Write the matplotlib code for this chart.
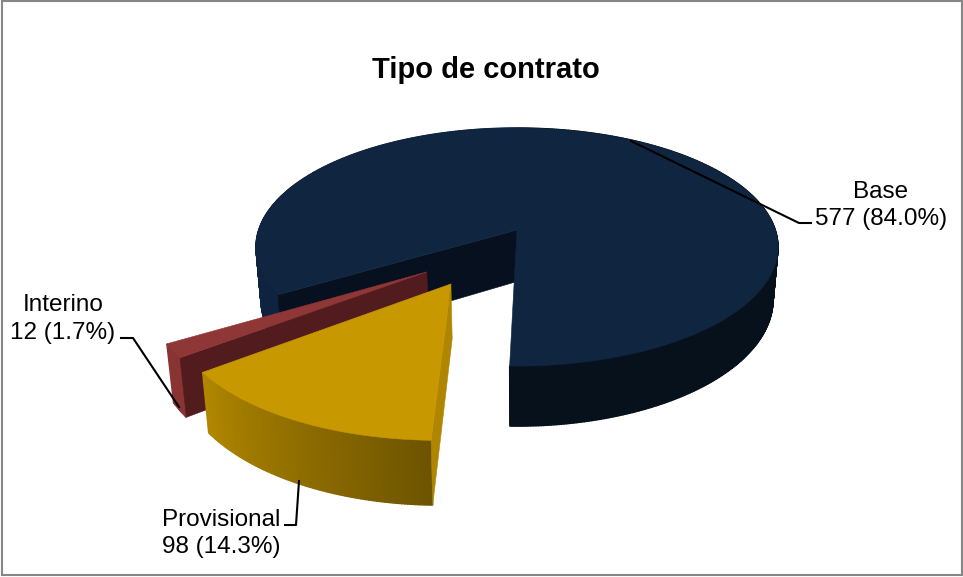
"""Tipo de contrato: exploded 3D pie with perspective, drawn from polygons."""

import numpy as np
import matplotlib
matplotlib.use("Agg")
import matplotlib.pyplot as plt
from matplotlib.patches import Polygon, Rectangle

plt.rcParams['font.family'] = ['Liberation Sans', 'DejaVu Sans']

title = "Tipo de contrato"
categories = ["Base", "Interino", "Provisional"]
counts = [577, 12, 98]
percents = ["84.0%", "1.7%", "14.3%"]

# layout of the fake 3D view, in pixels
CX, CY = 517, 230
A, B, K = 258.3, 116.6, 0.143
DEPTH = 51.5
SHRINK = 0.981
START = -91.4
# where each slice's tip ends up on the pie plane
offsets = [(0, 0), (-0.332, -0.342), (-0.24, -0.434)]


def top_xy(u, v):
    w = 1 + K * v
    return CX + A * u / w, CY - B * v / w


def bottom_xy(u, v):
    w = 1 + K * v
    return CX + SHRINK * A * u / w, CY - B * v / w + DEPTH / w


def mix(c1, c2, t):
    c1, c2 = np.array(matplotlib.colors.to_rgb(c1)), np.array(matplotlib.colors.to_rgb(c2))
    return tuple(c1 + (c2 - c1) * t)


def rim(t0, t1, off):
    th = np.radians(np.linspace(t0, t1, max(int(abs(t1 - t0)), 2) * 2))
    return off[0] + np.cos(th), off[1] + np.sin(th)


def poly(ax, pts, color, lw=0.4):
    ax.add_patch(Polygon(pts, closed=True, facecolor=color, edgecolor=color, lw=lw))


def outer_wall(ax, t0, t1, off, colorfn):
    # thick edges so the seams between the quads stay shut
    u, v = rim(t0, t1, off)
    for i in range(len(u) - 1):
        pts = [top_xy(u[i], v[i]), top_xy(u[i + 1], v[i + 1]),
               bottom_xy(u[i + 1], v[i + 1]), bottom_xy(u[i], v[i])]
        poly(ax, pts, colorfn((i + 0.5) / (len(u) - 1)), lw=1.0)


def cut_wall(ax, t, off, color):
    u1, v1 = off[0] + np.cos(np.radians(t)), off[1] + np.sin(np.radians(t))
    pts = [top_xy(*off), top_xy(u1, v1), bottom_xy(u1, v1), bottom_xy(*off)]
    poly(ax, pts, color)


def top_face(ax, t0, t1, off, color):
    u, v = rim(t0, t1, off)
    pts = [top_xy(*off)] + [top_xy(a, b) for a, b in zip(u, v)]
    poly(ax, pts, color)


fig = plt.figure(figsize=(9.63, 5.77), dpi=100)
ax = fig.add_axes([0, 0, 1, 1])
ax.set_xlim(0, 963)
ax.set_ylim(577, 0)
ax.axis("off")

ax.add_patch(Rectangle((2, 1), 960, 574, facecolor="white", edgecolor="#868686", lw=1.5))

# slice angles come from the counts
sweep = np.array(counts) / sum(counts) * 360
t_base = (START, START + sweep[0])
t_int = (t_base[1], t_base[1] + sweep[1])
t_prov = (t_int[1], t_int[1] + sweep[2])

# Base
off = offsets[0]
outer_wall(ax, t_base[0], 90, off, lambda t: "#07111B")
outer_wall(ax, 90, t_base[1], off, lambda t: "#0D2340")
cut_wall(ax, t_base[1], off, "#06101F")
top_face(ax, t_base[0], t_base[1], off, "#0F2540")

# Interino
off = offsets[1]
outer_wall(ax, t_int[0], t_int[1], off, lambda t: "#8A3333")
cut_wall(ax, t_int[1], off, "#521C1E")
top_face(ax, t_int[0], t_int[1], off, "#8F3636")

# Provisional
off = offsets[2]
outer_wall(ax, t_prov[0], t_prov[1], off, lambda t: mix("#B28800", "#6E5400", t))
cut_wall(ax, t_prov[1], off, "#B08600")
top_face(ax, t_prov[0], t_prov[1], off, "#C89800")

# leader lines
ax.plot([631, 799, 811], [141, 223, 223], color="black", lw=1.5)
ax.plot([121, 133, 179], [338, 338, 407], color="black", lw=1.5)
ax.plot([285, 296, 299], [525, 525, 481], color="black", lw=1.5)

ax.text(486, 70, title, fontsize=21, fontweight="bold", ha="center", va="center")

fs = 17.5
ax.text(881, 205.5, f"{categories[0]}\n{counts[0]} ({percents[0]})", fontsize=fs,
        ha="center", va="center", linespacing=1.3)
ax.text(63, 319, f"{categories[1]}\n{counts[1]} ({percents[1]})", fontsize=fs,
        ha="center", va="center", linespacing=1.3)
ax.text(162, 533.5, f"{categories[2]}\n{counts[2]} ({percents[2]})", fontsize=fs,
        ha="left", va="center", linespacing=1.3)

fig.savefig("out.png", dpi=100)
